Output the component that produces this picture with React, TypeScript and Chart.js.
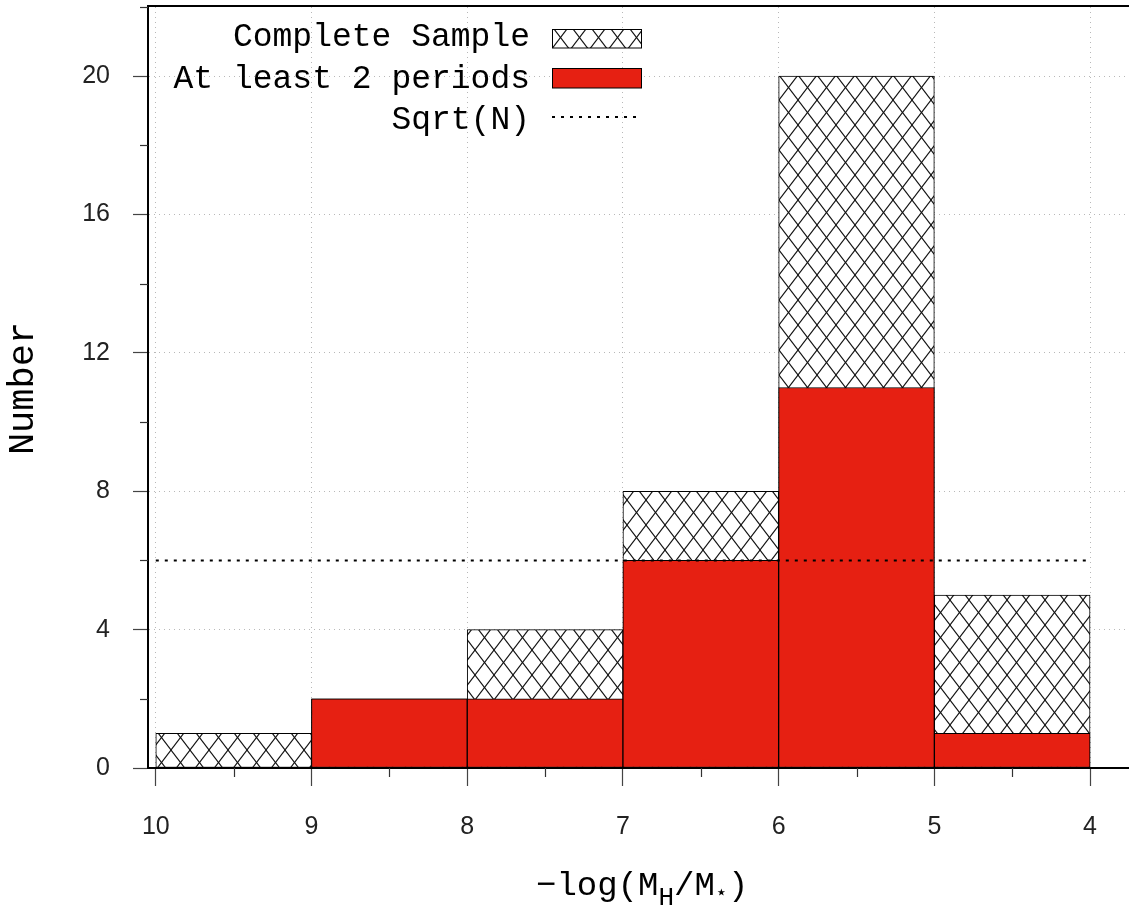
import React, { useEffect, useRef } from "react";
import { Chart, registerables } from "chart.js";

Chart.register(...registerables);

// ---- data ----
const binCenters = [9.5, 8.5, 7.5, 6.5, 5.5, 4.5];
const completeSample = [1, 2, 4, 8, 20, 5];
const atLeastTwoPeriods = [0, 2, 2, 6, 11, 1];
const sqrtNLevel = 6;
const sqrtNRange = [10, 4];
const xMinorTicks = [9.5, 8.5, 7.5, 6.5, 5.5, 4.5];
const yMinorTicks = [2, 6, 10, 14, 18, 22];
const legendLabels = ["Complete Sample", "At least 2 periods", "Sqrt(N)"];
const yTitle = "Number";
const xTitleParts = ["\u2212log(M", "H", "/M", "\u22C6", ")"];

const RED = "#e62012";
const MONO = '"Liberation Mono", "DejaVu Sans Mono", monospace';

function makeHatch(ctx: CanvasRenderingContext2D, w: number, h: number) {
  const c = document.createElement("canvas");
  c.width = w;
  c.height = h;
  const g = c.getContext("2d")!;
  g.fillStyle = "#ffffff";
  g.fillRect(0, 0, w, h);
  g.strokeStyle = "#111";
  g.lineWidth = 1.1;
  for (const dx of [-w, 0, w]) {
    for (const dy of [-h, 0, h]) {
      g.beginPath();
      g.moveTo(dx, dy);
      g.lineTo(dx + w, dy + h);
      g.stroke();
      g.beginPath();
      g.moveTo(dx + w, dy);
      g.lineTo(dx, dy + h);
      g.stroke();
    }
  }
  return ctx.createPattern(c, "repeat")!;
}

export default function App() {
  const ref = useRef<HTMLCanvasElement>(null);

  useEffect(() => {
    const canvas = ref.current!;
    const ctx = canvas.getContext("2d")!;
    const hatch = makeHatch(ctx, 19, 25);

    const decor = {
      id: "decor",
      afterDraw(chart: any) {
        const c = chart.ctx as CanvasRenderingContext2D;
        const { left, right, top, bottom } = chart.chartArea;
        const xs = chart.scales.x;
        const ys = chart.scales.y;
        c.save();
        // top border
        c.strokeStyle = "#000";
        c.lineWidth = 2;
        c.beginPath();
        c.moveTo(left - 1, top - 1);
        c.lineTo(right, top - 1);
        c.stroke();
        // minor ticks
        c.strokeStyle = "#333";
        c.lineWidth = 1.2;
        for (const v of xMinorTicks) {
          const px = Math.round(xs.getPixelForValue(v)) + 0.5;
          c.beginPath();
          c.moveTo(px, bottom);
          c.lineTo(px, bottom + 9);
          c.stroke();
        }
        for (const v of yMinorTicks) {
          const py = Math.round(ys.getPixelForValue(v)) + 0.5;
          c.beginPath();
          c.moveTo(left - 8, py);
          c.lineTo(left, py);
          c.stroke();
        }
        // legend
        c.fillStyle = "#000";
        c.font = `33px ${MONO}`;
        c.textAlign = "right";
        c.textBaseline = "alphabetic";
        const baselines = [46, 88, 129];
        legendLabels.forEach((t, i) => c.fillText(t, 530, baselines[i]));
        c.fillStyle = hatch;
        c.fillRect(552.5, 29.5, 89, 18.5);
        c.strokeStyle = "#000";
        c.lineWidth = 1;
        c.strokeRect(552.5, 29.5, 89, 18.5);
        c.fillStyle = RED;
        c.fillRect(552.5, 68.5, 89, 19.5);
        c.strokeRect(552.5, 68.5, 89, 19.5);
        c.lineWidth = 2;
        c.setLineDash([3, 6]);
        c.beginPath();
        c.moveTo(552, 117);
        c.lineTo(641, 117);
        c.stroke();
        c.setLineDash([]);
        // y title
        c.save();
        c.translate(33, 388.5);
        c.rotate(-Math.PI / 2);
        c.textAlign = "center";
        c.fillStyle = "#000";
        c.font = `37px ${MONO}`;
        c.fillText(yTitle, 0, 0);
        c.restore();
        // x title with subscripts
        c.textAlign = "left";
        c.fillStyle = "#000";
        let x = 536;
        const base = 895;
        const specs = [
          { size: 34, dy: 0 },
          { size: 26, dy: 10 },
          { size: 34, dy: 0 },
          { size: 22, dy: 5 },
          { size: 34, dy: 0 },
        ];
        xTitleParts.forEach((t, i) => {
          c.font = `${specs[i].size}px ${MONO}`;
          c.fillText(t, x, base + specs[i].dy);
          x += c.measureText(t).width;
        });
        c.restore();
      },
    };

    const chart = new Chart(canvas, {
      type: "bar",
      data: {
        datasets: [
          {
            type: "line",
            label: legendLabels[2],
            data: sqrtNRange.map((v) => ({ x: v, y: sqrtNLevel })),
            borderColor: "#000",
            borderWidth: 2,
            borderDash: [3, 6],
            pointRadius: 0,
            order: 0,
          } as any,
          {
            label: legendLabels[1],
            data: binCenters.map((x, i) => ({ x, y: atLeastTwoPeriods[i] })),
            backgroundColor: RED,
            borderColor: "#000",
            borderWidth: 1,
            borderSkipped: false,
            barPercentage: 1,
            categoryPercentage: 1,
            grouped: false,
            order: 1,
          },
          {
            label: legendLabels[0],
            data: binCenters.map((x, i) => ({ x, y: completeSample[i] })),
            backgroundColor: hatch,
            borderColor: "#000",
            borderWidth: 1,
            borderSkipped: false,
            barPercentage: 1,
            categoryPercentage: 1,
            grouped: false,
            order: 2,
          },
        ],
      },
      options: {
        responsive: false,
        animation: false,
        events: [],
        layout: { padding: { top: 7, left: 0, right: 0, bottom: 0 } },
        plugins: { legend: { display: false }, tooltip: { enabled: false } },
        scales: {
          x: {
            type: "linear",
            reverse: true,
            min: 3.75,
            max: 10.05,
            offset: false,
            afterFit: (s: any) => {
              s.height = 139;
              s.paddingLeft = 0;
              s.paddingRight = 0;
              s.paddingTop = 0;
              s.paddingBottom = 0;
            },
            grid: {
              offset: false,
              color: "#b8b8b8",
              lineWidth: 1,
              tickColor: "#444",
              tickLength: 18,
              tickWidth: 1.2,
            },
            border: { display: true, color: "#000", width: 2, dash: [1, 4] },
            ticks: {
              stepSize: 1,
              includeBounds: false,
              autoSkip: false,
              maxRotation: 0,
              padding: 26,
              color: "#222",
              font: { family: '"Liberation Sans", Arial, sans-serif', size: 25 },
              callback: (v: any) => String(v),
            },
          },
          y: {
            type: "linear",
            min: 0,
            max: 22,
            afterFit: (s: any) => {
              s.width = 148;
              s.paddingLeft = 0;
              s.paddingRight = 0;
              s.paddingTop = 0;
              s.paddingBottom = 0;
            },
            grid: {
              color: "#b8b8b8",
              lineWidth: 1,
              tickColor: "#444",
              tickLength: 15,
              tickWidth: 1.2,
            },
            border: { display: true, color: "#000", width: 2, dash: [1, 4] },
            ticks: {
              stepSize: 4,
              includeBounds: false,
              padding: 23,
              color: "#222",
              font: { family: '"Liberation Sans", Arial, sans-serif', size: 25 },
            },
          },
        },
      },
      plugins: [decor],
    } as any);

    return () => chart.destroy();
  }, []);

  return (
    <div style={{ position: "absolute", left: 0, top: 0, width: 1129, height: 907, background: "#fff" }}>
      <canvas ref={ref} width={1129} height={907} style={{ display: "block", width: 1129, height: 907 }} />
    </div>
  );
}
